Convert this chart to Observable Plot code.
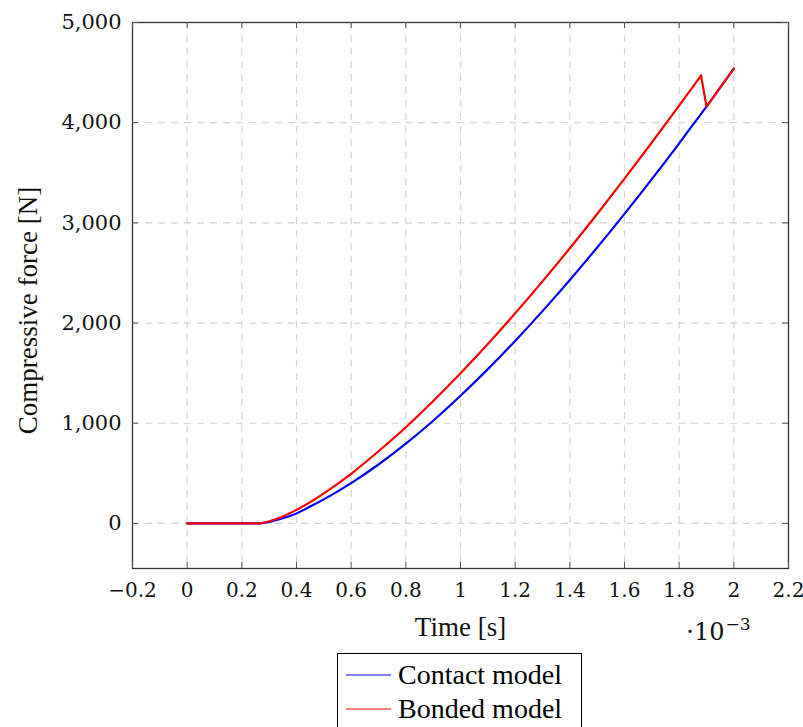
<!DOCTYPE html>
<html><head><meta charset="utf-8">
<script src="https://cdn.jsdelivr.net/npm/d3@7"></script>
<script src="https://cdn.jsdelivr.net/npm/@observablehq/plot@0.6"></script>
<style>
body{margin:0;background:#fff}
#wrap{position:relative;width:803px;height:727px;overflow:hidden}
#legend{position:absolute;left:337px;top:653px;width:245px;height:100px;border:1.3px solid #000;box-sizing:border-box;background:#fff;font-family:"Liberation Serif",serif;font-size:28px;color:#000}
.row{position:absolute;left:8px;height:30px;display:flex;align-items:center}
.row svg{margin-right:7px}
</style>
</head><body><div id="wrap"></div>
<script>
// Data (time in 1e-3 s, force in N)
const contactTime  = [0, 0.1, 0.2, 0.26, 0.3, 0.35, 0.4, 0.45, 0.5, 0.6, 0.7, 0.8, 0.9, 1.0, 1.1, 1.2, 1.3, 1.4, 1.5, 1.6, 1.7, 1.8, 1.85, 1.9, 1.95, 2.0];
const contactForce = [0, 0, 0, 0, 16, 52, 100, 168, 240, 402, 588, 796, 1025, 1274, 1540, 1822, 2119, 2430, 2754, 3090, 3437, 3794, 3978, 4160, 4350, 4540];
const bondedTime   = [0, 0.1, 0.2, 0.26, 0.3, 0.35, 0.4, 0.45, 0.5, 0.6, 0.7, 0.8, 0.9, 1.0, 1.1, 1.2, 1.3, 1.4, 1.5, 1.6, 1.7, 1.8, 1.85, 1.88, 1.9, 1.95, 2.0];
const bondedForce  = [0, 0, 0, 0, 22, 70, 135, 212, 300, 495, 720, 960, 1222, 1499, 1791, 2097, 2416, 2747, 3089, 3441, 3802, 4171, 4357, 4471, 4160, 4350, 4540];
const bondedPeakIndex = 23; // index of the peak before the sudden drop

const seriesNames = ["Contact model", "Bonded model"];
const seriesColors = ["#0000ff", "#ff0000"];

const xTicks = [-0.2, 0, 0.2, 0.4, 0.6, 0.8, 1, 1.2, 1.4, 1.6, 1.8, 2, 2.2];
const xTickLabels = ["−0.2", "0", "0.2", "0.4", "0.6", "0.8", "1", "1.2", "1.4", "1.6", "1.8", "2", "2.2"];
const yTicks = [0, 1000, 2000, 3000, 4000, 5000];
const yTickLabels = ["0", "1,000", "2,000", "3,000", "4,000", "5,000"];
const xDomain = [-0.2, 2.2];
const yDomain = [-450, 5000];

const xLabel = "Time [s]";
const yLabel = "Compressive force [N]";
const scaleBase = "·10";
const scaleExp = "−3";

const contact = contactTime.map((t, i) => ({t, f: contactForce[i]}));
const bonded = bondedTime.map((t, i) => ({t, f: bondedForce[i]}));
const bondedRise = bonded.slice(0, bondedPeakIndex + 1);
const bondedAfter = bonded.slice(bondedPeakIndex);

const tickFont = "DejaVu Serif";
const labelFont = "Liberation Serif";
const gridStyle = {stroke: "#d4d4d4", strokeOpacity: 1, strokeWidth: 1.2, strokeDasharray: "7 6"};
const tickStyle = {stroke: "#555", strokeWidth: 1, strokeOpacity: 1};

const W = 803, H = 727, mL = 132, mR = 15, mT = 22, mB = 159;
const frameW = W - mL - mR, frameH = H - mT - mB;
const tickLen = 6;

const chart = Plot.plot({
  width: W,
  height: H,
  marginLeft: mL,
  marginRight: mR,
  marginTop: mT,
  marginBottom: mB,
  x: {domain: xDomain},
  y: {domain: yDomain},
  style: {background: "transparent", overflow: "visible"},
  marks: [
    Plot.gridX(xTicks, gridStyle),
    Plot.gridY(yTicks, gridStyle),
    Plot.line(contact, {x: "t", y: "f", stroke: seriesColors[0], strokeWidth: 2.2, curve: "monotone-x"}),
    Plot.line(bondedRise, {x: "t", y: "f", stroke: seriesColors[1], strokeWidth: 2.2, curve: "monotone-x"}),
    Plot.line(bondedAfter, {x: "t", y: "f", stroke: seriesColors[1], strokeWidth: 2.2}),
    Plot.frame({stroke: "#333", strokeWidth: 1.3}),
    Plot.tickX(xTicks, {x: d => d, insetTop: frameH - tickLen, ...tickStyle}),
    Plot.tickX(xTicks, {x: d => d, insetBottom: frameH - tickLen, ...tickStyle}),
    Plot.tickY(yTicks, {y: d => d, insetRight: frameW - tickLen, ...tickStyle}),
    Plot.tickY(yTicks, {y: d => d, insetLeft: frameW - tickLen, ...tickStyle}),
    Plot.axisX(xTicks, {anchor: "bottom", tickSize: 0, tickPadding: 14, tickFormat: d => xTickLabels[xTicks.indexOf(d)], fontSize: 20, fontFamily: tickFont, fill: "#111", label: null}),
    Plot.axisY(yTicks, {anchor: "left", tickSize: 0, tickPadding: 11, tickFormat: d => yTickLabels[yTicks.indexOf(d)], fontSize: 21, fontFamily: tickFont, fill: "#111", label: null}),
    Plot.text([xLabel], {frameAnchor: "bottom", text: d => d, dy: 48, lineAnchor: "top", fontSize: 27, fontFamily: labelFont, fill: "#111"}),
    Plot.text([yLabel], {frameAnchor: "left", text: d => d, dx: -104, dy: 15, rotate: -90, textAnchor: "middle", lineAnchor: "middle", fontSize: 27, fontFamily: labelFont, fill: "#111"}),
    Plot.text([scaleBase], {frameAnchor: "bottom-right", text: d => d, dx: -64, dy: 54, textAnchor: "end", lineAnchor: "top", fontSize: 24, fontFamily: tickFont, fill: "#111"}),
    Plot.text([scaleExp], {frameAnchor: "bottom-right", text: d => d, dx: -38, dy: 49, textAnchor: "end", lineAnchor: "top", fontSize: 17, fontFamily: tickFont, fill: "#111"})
  ]
});

const wrap = document.getElementById("wrap");
wrap.appendChild(chart);

const legend = document.createElement("div");
legend.id = "legend";
seriesNames.forEach((name, i) => {
  const row = document.createElement("div");
  row.className = "row";
  row.style.top = (6 + i * 34) + "px";
  row.innerHTML = `<svg width="45" height="4"><line x1="0" x2="45" y1="2" y2="2" stroke="${seriesColors[i]}" stroke-width="1.2"/></svg><span>${name}</span>`;
  legend.appendChild(row);
});
wrap.appendChild(legend);
</script>
</body></html>
